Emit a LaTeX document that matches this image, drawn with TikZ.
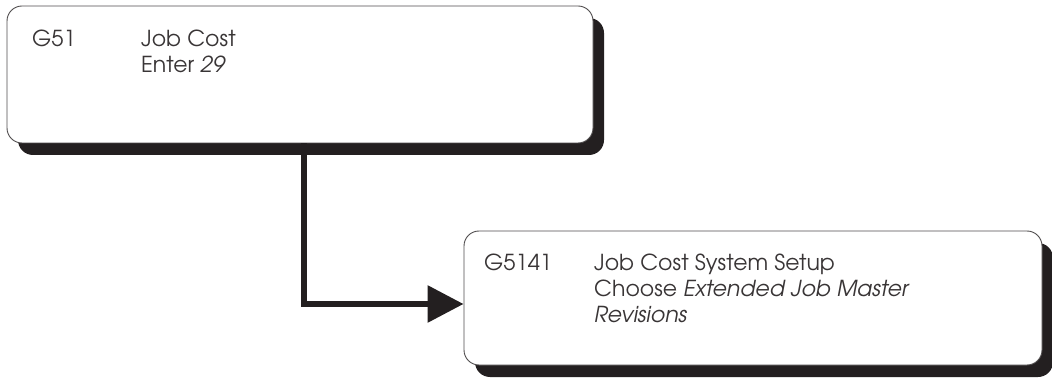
\documentclass[tikz,border=0pt]{standalone}
\usepackage{fontspec}
\setmainfont{TeX Gyre Adventor}
\usetikzlibrary{arrows.meta,shadows}
\definecolor{ink}{HTML}{231F20}
\begin{document}
\begin{tikzpicture}[x=1pt,y=-1pt,
  menubox/.style={draw=ink!80, line width=0.9pt, fill=white, rounded corners=15pt,
    inner sep=0pt,
    drop shadow={shadow xshift=11pt, shadow yshift=-12pt, fill=ink, opacity=1}},
  txt/.style={anchor=base west, inner sep=0pt, text=ink!90, font=\fontsize{22}{26}\selectfont},
  conn/.style={draw=ink, line width=6pt, -{Triangle[length=36pt,width=36pt]}}]
  \useasboundingbox (0,0) rectangle (1052,379);

  % first menu
  \node[menubox, minimum width=586pt, minimum height=137pt] (m1) at (300,74.5) {};
  \node[txt] (m1code) at (32,47) {G51};
  \node[txt] (m1title) at (141,47) {Job Cost};
  \node[txt] (m1do) at (141,73) {Enter \textit{29}};

  % second menu
  \node[menubox, minimum width=578pt, minimum height=134pt] (m2) at (753,298) {};
  \node[txt] (m2code) at (484,271) {G5141};
  \node[txt] (m2title) at (594,271) {Job Cost System Setup};
  \node[txt] (m2do) at (594,297) {Choose \textit{Extended Job Master}};
  \node[txt] (m2do2) at (594,323) {\textit{Revisions}};

  % connector
  \coordinate (turn) at (304,304);
  \draw[conn] (m1.south -| turn) -- (turn) -- (m2.west |- turn);
\end{tikzpicture}
\end{document}
